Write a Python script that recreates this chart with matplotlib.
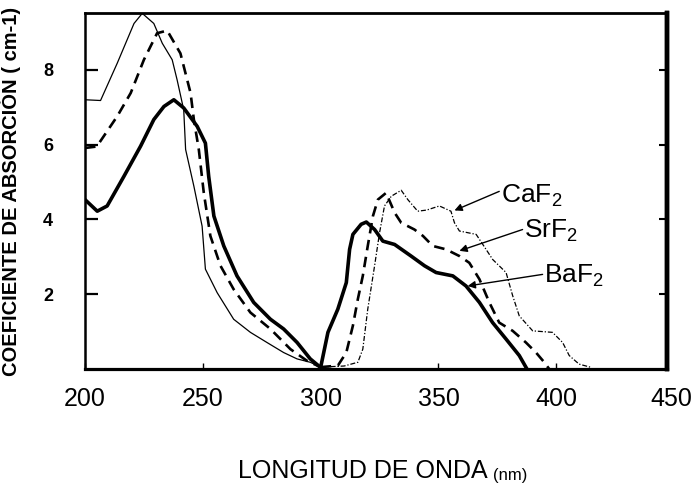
import matplotlib
matplotlib.use("Agg")
import matplotlib.pyplot as plt
from matplotlib.transforms import offset_copy

plt.rcParams["font.family"] = ["Liberation Sans", "DejaVu Sans"]
plt.rcParams["mathtext.fontset"] = "custom"
plt.rcParams["mathtext.rm"] = "Liberation Sans"
plt.rcParams["mathtext.it"] = "Liberation Sans"

# Absorption spectra (wavelength in nm, absorption coefficient in cm-1)
caf2_uv_x = [200, 206.6, 213.7, 220.8, 224.3, 229.2, 232.8, 237.0, 239.1, 241.9, 242.7,
             246.2, 249.7, 251.1, 256.1, 263.1, 270.2, 277.2, 284.3, 290.0, 295.6, 300]
caf2_uv_y = [7.2, 7.18, 8.18, 9.24, 9.51, 9.24, 8.71, 8.27, 7.73, 6.93, 5.87,
             4.89, 3.82, 2.67, 2.04, 1.33, 0.98, 0.71, 0.44, 0.27, 0.18, 0.05]
caf2_vis_x = [300, 310, 315.8, 317.9, 320, 322.9, 325, 327.1, 330, 334.2, 337, 341.2, 345,
              350.4, 355.3, 356.8, 358.9, 366, 370.2, 373, 378.7, 381.5, 384.3, 390,
              398.4, 402.7, 405.5, 409.7, 415]
caf2_vis_y = [0.05, 0.08, 0.18, 0.53, 1.6, 2.76, 3.64, 4.36, 4.62, 4.78, 4.53, 4.22, 4.25,
              4.36, 4.22, 3.91, 3.69, 3.6, 3.2, 2.93, 2.58, 1.96, 1.42, 1.02,
              0.98, 0.71, 0.36, 0.13, 0.04]

srf2_uv_x = [200, 205, 213.7, 219.4, 225, 230.6, 234.9, 240.5, 244.8, 246.2, 248.3,
             250.4, 253.2, 257.5, 263.1, 270.2, 278.7, 287.2, 294.2, 300]
srf2_uv_y = [5.91, 5.95, 6.76, 7.38, 8.27, 8.98, 9.05, 8.44, 7.38, 6.67, 5.87,
             4.72, 3.56, 2.76, 2.13, 1.51, 1.07, 0.53, 0.22, 0.05]
srf2_vis_x = [300, 307.3, 310.9, 313.7, 315.8, 317.9, 320, 322.2, 324.3, 327.8, 331.4,
              334.2, 339.8, 343.4, 347.6, 353.2, 358.9, 363.1, 367.4, 371.6, 375.8,
              381.5, 387.1, 391.4, 394.9, 397]
srf2_vis_y = [0.05, 0.09, 0.44, 1.16, 1.87, 2.49, 3.29, 4.09, 4.53, 4.71, 4.18,
              3.91, 3.73, 3.56, 3.29, 3.2, 3.02, 2.84, 2.4, 1.78, 1.24,
              1.02, 0.71, 0.44, 0.18, 0.0]

baf2_uv_x = [200, 205.2, 209.4, 216.5, 223.6, 229.2, 233.5, 237.7, 241.9, 247.6, 251.1,
             252.5, 254.7, 258.9, 264.5, 271.6, 278.7, 284.3, 290, 295.6, 300]
baf2_uv_y = [4.53, 4.22, 4.36, 5.15, 5.96, 6.67, 7.02, 7.2, 6.98, 6.49, 6.04,
             5.15, 4.09, 3.29, 2.49, 1.78, 1.33, 1.07, 0.71, 0.27, 0.04]
baf2_vis_x = [300, 303.1, 307.3, 310.9, 312.3, 313.7, 317.2, 319.4, 322.9, 326.4, 331.4,
              338.4, 344.1, 349, 356.1, 361.7, 367.4, 373, 378.7, 384.3, 387.2]
baf2_vis_y = [0.04, 0.98, 1.6, 2.31, 3.2, 3.6, 3.87, 3.93, 3.73, 3.42, 3.33,
              3.02, 2.76, 2.58, 2.49, 2.22, 1.78, 1.24, 0.8, 0.36, 0.04]

x_ticks = [200, 250, 300, 350, 400]
x_last_label = 450
y_ticks = [2, 4, 6, 8]

# Curve labels: text, text anchor (x, y), arrow tail and tip (x, y)
labels = [r"CaF$_2$", r"SrF$_2$", r"BaF$_2$"]
label_pos = [(376.7, 4.45), (386.4, 3.50), (394.9, 2.30)]
arrow_tail = [(375.8, 4.75), (385.7, 3.73), (394.2, 2.53)]
arrow_tip = [(356.8, 4.24), (358.9, 3.16), (362.4, 2.22)]

fig = plt.figure(figsize=(6.96, 4.86), dpi=100)
ax = fig.add_axes([85 / 696, 1 - 369 / 486, 582 / 696, 356 / 486])

# CaF2: thin line, broken in the near-UV band
ax.plot(caf2_uv_x, caf2_uv_y, color="black", lw=0.9)
ax.plot(caf2_vis_x, caf2_vis_y, color="black", lw=0.9, linestyle=(0, (4, 1.5, 1, 1.5)))
# SrF2: dashed
ax.plot(srf2_uv_x, srf2_uv_y, color="black", lw=1.9, linestyle=(0, (4, 2.5)))
ax.plot(srf2_vis_x, srf2_vis_y, color="black", lw=1.9, linestyle=(0, (4, 2.5)))
# BaF2: heavy solid
ax.plot(baf2_uv_x, baf2_uv_y, color="black", lw=2.6)
ax.plot(baf2_vis_x, baf2_vis_y, color="black", lw=2.6)

for txt, pos, tail, tip in zip(labels, label_pos, arrow_tail, arrow_tip):
    ax.text(pos[0], pos[1], txt, fontsize=19, ha="left", va="baseline")
    ax.annotate("", xy=tip, xytext=tail,
                arrowprops=dict(arrowstyle="-|>", color="black", lw=1.0,
                                mutation_scale=11, shrinkA=0, shrinkB=0))

ax.set_xlim(200, 447)
ax.set_ylim(0, 9.52)

ax.set_xticks(x_ticks)
ax.set_xticklabels([str(v) for v in x_ticks])
ax.set_yticks(y_ticks)
ax.set_yticklabels([str(v) for v in y_ticks])

ax.tick_params(axis="x", direction="in", length=4.5, width=1.0, pad=13,
               labelsize=18, top=False)
ax.tick_params(axis="y", direction="in", length=9.5, width=1.6, pad=23,
               labelsize=13, right=False)
for lab in ax.get_yticklabels():
    lab.set_fontweight("bold")

# the 450 label sits just past the right edge of the frame
ax.text(x_last_label - 1, 0, str(x_last_label), fontsize=18, ha="center", va="top",
        transform=offset_copy(ax.get_xaxis_transform(), fig=fig, x=0, y=-13,
                              units="points"),
        clip_on=False)

# right-hand frame ticks
sec = ax.secondary_yaxis("right")
sec.set_yticks(y_ticks)
sec.set_yticklabels([])
sec.tick_params(direction="in", length=6, width=1.5)
sec.spines["right"].set_linewidth(3.2)

ax.spines["left"].set_linewidth(1.8)
ax.spines["bottom"].set_linewidth(2.3)
ax.spines["top"].set_linewidth(2.0)
ax.spines["right"].set_linewidth(3.2)

ax.set_ylabel("COEFICIENTE DE ABSORCIÓN ( cm-1)", fontsize=14.5, fontweight="bold")
ax.yaxis.set_label_coords(-0.11, 0.5)

t1 = fig.text(238 / 696, 1 - 478 / 486, "LONGITUD DE ONDA", fontsize=18,
              ha="left", va="baseline")
ax.annotate("(nm)", xy=(1, 0), xycoords=t1, xytext=(4, 0), textcoords="offset points",
            fontsize=12, ha="left", va="bottom", annotation_clip=False)

fig.savefig("out.png", dpi=100)
